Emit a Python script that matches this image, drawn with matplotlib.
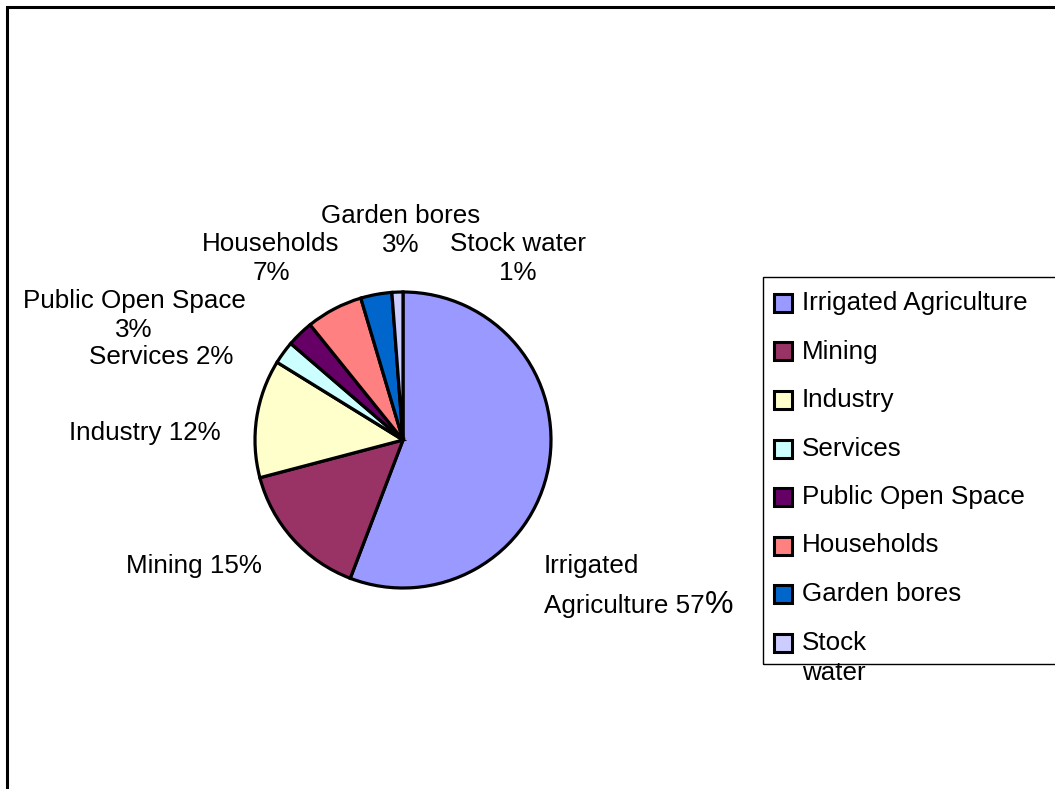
import matplotlib
matplotlib.use("Agg")
import matplotlib.pyplot as plt
from matplotlib.patches import Rectangle

plt.rcParams['font.family'] = ['Liberation Sans', 'DejaVu Sans']

# data
categories = ['Irrigated Agriculture', 'Mining', 'Industry', 'Services',
              'Public Open Space', 'Households', 'Garden bores', 'Stock water']
shares = [55.8, 15.1, 12.9, 2.5, 2.9, 6.2, 3.4, 1.2]
pct_text = ['57%', '15%', '12%', '2%', '3%', '7%', '3%', '1%']
legend_labels = ['Irrigated Agriculture', 'Mining', 'Industry', 'Services',
                 'Public Open Space', 'Households', 'Garden bores', 'Stock\nwater']
colors = ['#9999FF', '#993366', '#FFFFCC', '#CCFFFF',
          '#660066', '#FF8080', '#0066CC', '#CCCCFF']

W, H = 1055, 789
FS = 18.7
fig = plt.figure(figsize=(W / 100, H / 100), dpi=100)


def fx(x):
    return x / W


def fy(y):
    return 1 - y / H


def put(x, y, lines, ha='center', step=29.5, size=FS):
    out = []
    for k, line in enumerate(lines):
        out.append(fig.text(fx(x), fy(y + k * step), line, ha=ha, va='baseline',
                            fontsize=size, color='black'))
    return out


# outer frame (only top and left show, rest runs off the page)
fig.patches.append(Rectangle((fx(6.5), -0.1), 1.2, fy(6.5) + 0.1, transform=fig.transFigure,
                             fill=False, edgecolor='black', linewidth=2.2))

# pie
cx, cy, r = 403, 440, 148
ext = 1.2
ax = fig.add_axes([fx(cx - r * ext), fy(cy + r * ext), 2 * r * ext / W, 2 * r * ext / H])
ax.pie(shares, colors=colors, startangle=90, counterclock=False, radius=1,
       wedgeprops=dict(edgecolor='black', linewidth=2.3))
ax.set_xlim(-ext, ext)
ax.set_ylim(-ext, ext)
ax.axis('off')

# slice labels: (x centre, first baseline, split over two lines)
label_pos = {
    'Mining': (194, 573, False),
    'Industry': (145, 440, False),
    'Services': (161, 364, False),
    'Public Open Space': (134, 308, True),
    'Households': (271, 251, True),
    'Garden bores': (401, 223, True),
    'Stock water': (518, 251, True),
}
for name, pct in zip(categories, pct_text):
    if name in label_pos:
        x, y, two = label_pos[name]
        lines = [name, pct] if two else [name + ' ' + pct]
        put(x, y, lines)

# Irrigated Agriculture label, with its larger percent sign
first = categories[0].split(' ')
put(544, 573, [first[0]], ha='left')
t = put(544, 613, [first[1] + ' ' + pct_text[0][:-1]], ha='left')[0]
fig.canvas.draw()
bb = t.get_window_extent()
fig.text(bb.x1 / W, fy(613), pct_text[0][-1], ha='left', va='baseline', fontsize=23)

# legend
fig.patches.append(Rectangle((fx(762.5), fy(664)), 1.0, fy(277.5) - fy(664),
                             transform=fig.transFigure, fill=False,
                             edgecolor='black', linewidth=1))
for i, (lab, c) in enumerate(zip(legend_labels, colors)):
    yc = 303 + i * 48.5
    fig.patches.append(Rectangle((fx(774), fy(yc + 9)), 18 / W, 18 / H,
                                 transform=fig.transFigure, facecolor=c,
                                 edgecolor='black', linewidth=2.2))
    put(802, yc + 7, lab.split('\n'), ha='left', step=30)

fig.savefig('out.png', dpi=100)
